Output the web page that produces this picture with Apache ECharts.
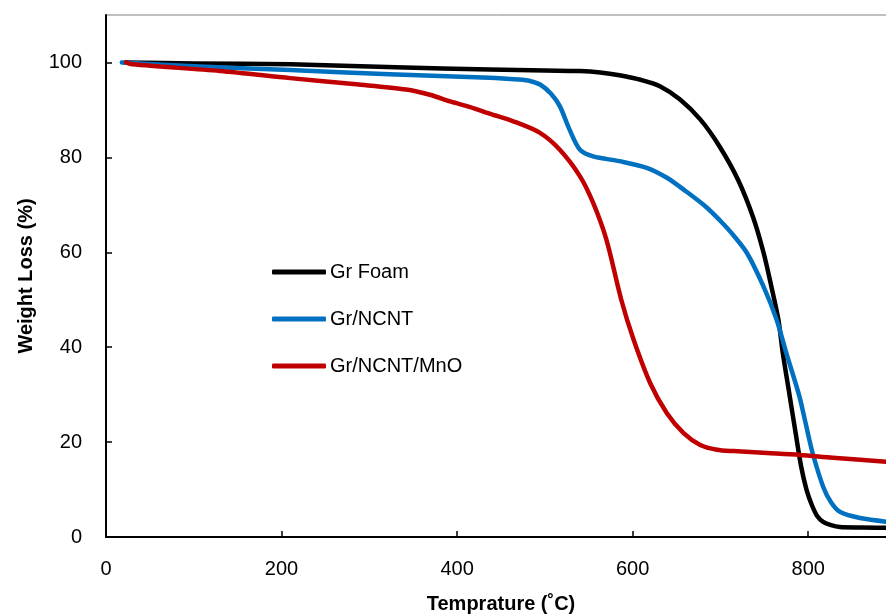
<!DOCTYPE html>
<html>
<head>
<meta charset="utf-8">
<script src="https://cdn.jsdelivr.net/npm/echarts@6/dist/echarts.min.js"></script>
<style>
  html, body { margin: 0; padding: 0; background: #fff; }
  #chart { width: 886px; height: 616px; }
</style>
</head>
<body>
<div id="chart"></div>
<script>
// TGA curves: temperature (°C) vs. remaining weight (%)
const foamT = [22, 100, 210, 330, 437, 500, 540, 563, 585, 610, 631, 654, 677, 699, 720, 737, 749, 758, 766, 771, 779, 786, 792, 798, 804, 810, 817, 826, 836, 860, 900];
const foamW = [100, 99.8, 99.6, 99.0, 98.5, 98.3, 98.2, 97.9, 97.3, 96.3, 95.0, 92.2, 88.0, 82.3, 75.3, 67.5, 60.0, 52.8, 45.8, 38.8, 29.6, 21.5, 14.8, 10.0, 6.8, 4.5, 3.2, 2.5, 2.1, 2.0, 1.9];

const ncntT = [18, 100, 210, 323, 437, 470, 483, 495, 507, 517, 528, 540, 555, 585, 616, 639, 661, 684, 700, 711, 730, 749, 764, 775, 790, 797, 805, 817, 826, 836, 859, 900];
const ncntW = [100, 99.2, 98.4, 97.5, 96.8, 96.4, 96.1, 95.3, 93.4, 90.8, 85.9, 81.6, 80.2, 79.2, 77.8, 75.7, 72.8, 69.5, 66.6, 64.4, 59.9, 52.8, 45.8, 38.8, 29.6, 24.0, 17.7, 10.6, 7.3, 5.3, 4.0, 3.0];

const mnoT = [23, 30, 130, 210, 285, 342, 369, 392, 415, 437, 464, 494, 517, 540, 555, 570, 587, 601, 620, 639, 658, 677, 696, 715, 753, 790, 828, 900];
const mnoW = [100, 99.6, 98.2, 96.7, 95.4, 94.3, 93.2, 91.8, 90.6, 89.2, 87.6, 85.2, 81.6, 76.0, 70.4, 62.7, 50.0, 41.6, 32.4, 26.1, 21.9, 19.4, 18.4, 18.1, 17.7, 17.3, 16.7, 15.7];

const seriesNames = ['Gr Foam', 'Gr/NCNT', 'Gr/NCNT/MnO'];
const seriesColors = ['#000000', '#0070C0', '#C00000'];

const xTitle = 'Temprature (\u02DAC)';
const yTitle = 'Weight Loss (%)';

const pairs = (xs, ys) => xs.map((x, i) => [x, ys[i]]);
const curves = [pairs(foamT, foamW), pairs(ncntT, ncntW), pairs(mnoT, mnoW)];

const font = 'Liberation Sans, Arial, sans-serif';
const chart = echarts.init(document.getElementById('chart'), null, { renderer: 'canvas' });

chart.setOption({
  animation: false,
  backgroundColor: '#ffffff',
  grid: {
    left: 106, top: 15, width: 790, height: 522,
    outerBoundsMode: 'none',
    containLabel: false,
    show: true, borderColor: '#808080', borderWidth: 1
  },
  legend: {
    orient: 'vertical',
    left: 267, top: 257,
    itemWidth: 54, itemHeight: 5, itemGap: 27,
    icon: 'roundRect',
    data: seriesNames,
    textStyle: { fontFamily: font, fontSize: 20, color: '#000', lineHeight: 20, padding: [0, 0, 0, -1] }
  },
  xAxis: {
    type: 'value',
    min: 0, max: 900, interval: 200,
    name: xTitle, nameLocation: 'middle', nameGap: 57,
    nameTextStyle: { fontFamily: font, fontSize: 20, fontWeight: 'bold', color: '#000' },
    axisLine: { lineStyle: { color: '#000', width: 2 } },
    axisTick: { inside: true, length: 6, lineStyle: { color: '#000', width: 1.5 } },
    axisLabel: { fontFamily: font, fontSize: 20, color: '#000', margin: 22, showMaxLabel: false },
    splitLine: { show: false }
  },
  yAxis: {
    type: 'value',
    min: 0, max: 110, interval: 20,
    name: yTitle, nameLocation: 'middle', nameGap: 70, nameRotate: 90,
    nameTextStyle: { fontFamily: font, fontSize: 20, fontWeight: 'bold', color: '#000' },
    axisLine: { show: true, lineStyle: { color: '#000', width: 2 } },
    axisTick: { show: true, inside: true, length: 6, lineStyle: { color: '#000', width: 1.5 } },
    axisLabel: { fontFamily: font, fontSize: 20, color: '#000', margin: 24, showMaxLabel: false },
    splitLine: { show: false }
  },
  series: curves.map((data, i) => ({
    name: seriesNames[i],
    type: 'line',
    data: data,
    smooth: 0.3,
    showSymbol: false,
    clip: true,
    color: seriesColors[i],
    lineStyle: { color: seriesColors[i], width: 4.5, cap: 'round', join: 'round' }
  }))
});
</script>
</body>
</html>
